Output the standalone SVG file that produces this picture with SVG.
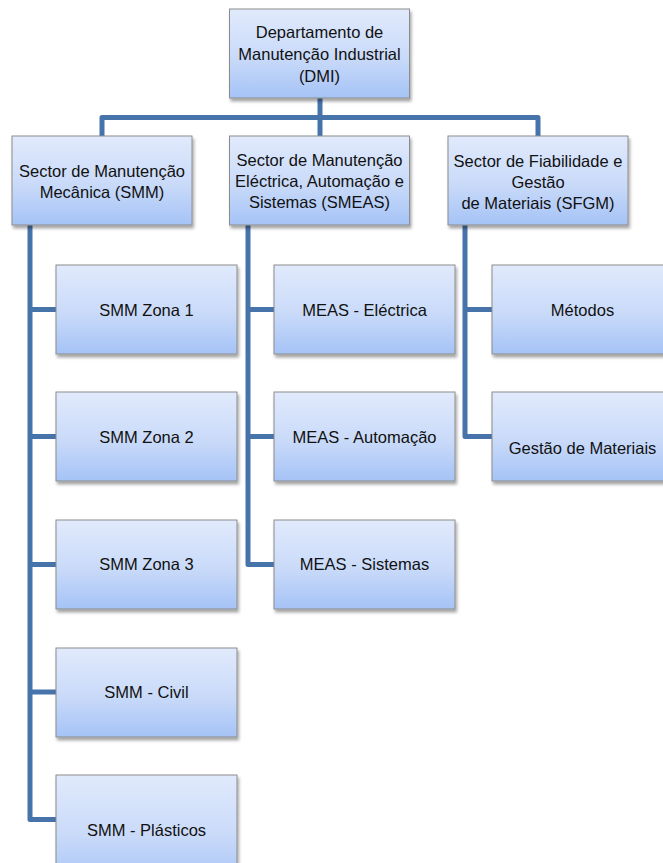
<svg xmlns="http://www.w3.org/2000/svg" width="663" height="863" viewBox="0 0 663 863">
  <defs>
    <linearGradient id="boxFill" x1="0" y1="0" x2="0" y2="1">
      <stop offset="0" stop-color="#e1eafc"/>
      <stop offset="0.55" stop-color="#c9daf9"/>
      <stop offset="1" stop-color="#a5c3f6"/>
    </linearGradient>
    <filter id="shadow" x="-10%" y="-10%" width="125%" height="130%">
      <feDropShadow dx="1.5" dy="3" stdDeviation="1.8" flood-color="#000" flood-opacity="0.35"/>
    </filter>
  </defs>
  <style>
    .box { fill: url(#boxFill); stroke: #8c8c8c; stroke-width: 1; filter: url(#shadow); }
    .lbl { font-family: "Liberation Sans", Arial, sans-serif; font-size: 16.5px; fill: #111; text-anchor: middle; }
    .link { fill: none; stroke: #4673aa; stroke-width: 5; stroke-linejoin: round; }
  </style>
  <rect width="663" height="863" fill="#fff"/>

  <!-- connectors -->
  <g id="connectors">
    <path class="link" d="M320,98 V136"/>
    <path class="link" d="M102,136 V117.5 H538 V136"/>
    <!-- SMM branch -->
    <path class="link" d="M30,225 V819.5 H56"/>
    <path class="link" d="M30,309.5 H56 M30,436.5 H56 M30,564.5 H56 M30,692 H56"/>
    <!-- SMEAS branch -->
    <path class="link" d="M248,225 V564.5 H274"/>
    <path class="link" d="M248,309.5 H274 M248,436.5 H274"/>
    <!-- SFGM branch -->
    <path class="link" d="M465,225 V436.5 H492"/>
    <path class="link" d="M465,309.5 H492"/>
  </g>

  <!-- top level -->
  <g id="dmi">
    <rect class="box" x="229.5" y="9" width="180" height="89"/>
    <text class="lbl" x="319.5" y="37.5">Departamento de</text>
    <text class="lbl" x="319.5" y="59.5">Manutenção Industrial</text>
    <text class="lbl" x="319.5" y="81.5">(DMI)</text>
  </g>

  <!-- sectors -->
  <g id="smm">
    <rect class="box" x="12" y="136" width="180" height="89"/>
    <text class="lbl" x="102" y="176.5">Sector de Manutenção</text>
    <text class="lbl" x="102" y="198">Mecânica (SMM)</text>
  </g>
  <g id="smeas">
    <rect class="box" x="229.5" y="136" width="180" height="89"/>
    <text class="lbl" x="319.5" y="166">Sector de Manutenção</text>
    <text class="lbl" x="319.5" y="187">Eléctrica, Automação e</text>
    <text class="lbl" x="319.5" y="208">Sistemas (SMEAS)</text>
  </g>
  <g id="sfgm">
    <rect class="box" x="448" y="136" width="180" height="89"/>
    <text class="lbl" x="538" y="166.5">Sector de Fiabilidade e</text>
    <text class="lbl" x="538" y="187.5">Gestão</text>
    <text class="lbl" x="538" y="208.5">de Materiais (SFGM)</text>
  </g>

  <!-- SMM units -->
  <g id="smm-zona1">
    <rect class="box" x="56" y="265" width="181" height="89"/>
    <text class="lbl" x="146.5" y="315.5">SMM Zona 1</text>
  </g>
  <g id="smm-zona2">
    <rect class="box" x="56" y="392" width="181" height="89"/>
    <text class="lbl" x="146.5" y="442.5">SMM Zona 2</text>
  </g>
  <g id="smm-zona3">
    <rect class="box" x="56" y="520" width="181" height="89"/>
    <text class="lbl" x="146.5" y="570">SMM Zona 3</text>
  </g>
  <g id="smm-civil">
    <rect class="box" x="56" y="648" width="181" height="89"/>
    <text class="lbl" x="146.5" y="697.5">SMM - Civil</text>
  </g>
  <g id="smm-plasticos">
    <rect class="box" x="56" y="775" width="181" height="110"/>
    <text class="lbl" x="146.5" y="836">SMM - Plásticos</text>
  </g>

  <!-- SMEAS units -->
  <g id="meas-electrica">
    <rect class="box" x="274" y="265" width="181" height="89"/>
    <text class="lbl" x="364.5" y="315.5">MEAS - Eléctrica</text>
  </g>
  <g id="meas-automacao">
    <rect class="box" x="274" y="392" width="181" height="89"/>
    <text class="lbl" x="364.5" y="442.5">MEAS - Automação</text>
  </g>
  <g id="meas-sistemas">
    <rect class="box" x="274" y="520" width="181" height="89"/>
    <text class="lbl" x="364.5" y="569.5">MEAS - Sistemas</text>
  </g>

  <!-- SFGM units -->
  <g id="metodos">
    <rect class="box" x="492" y="265" width="181" height="89"/>
    <text class="lbl" x="582.5" y="315.5">Métodos</text>
  </g>
  <g id="gestao-materiais">
    <rect class="box" x="492" y="392" width="181" height="89"/>
    <text class="lbl" x="582.5" y="454">Gestão de Materiais</text>
  </g>
</svg>
